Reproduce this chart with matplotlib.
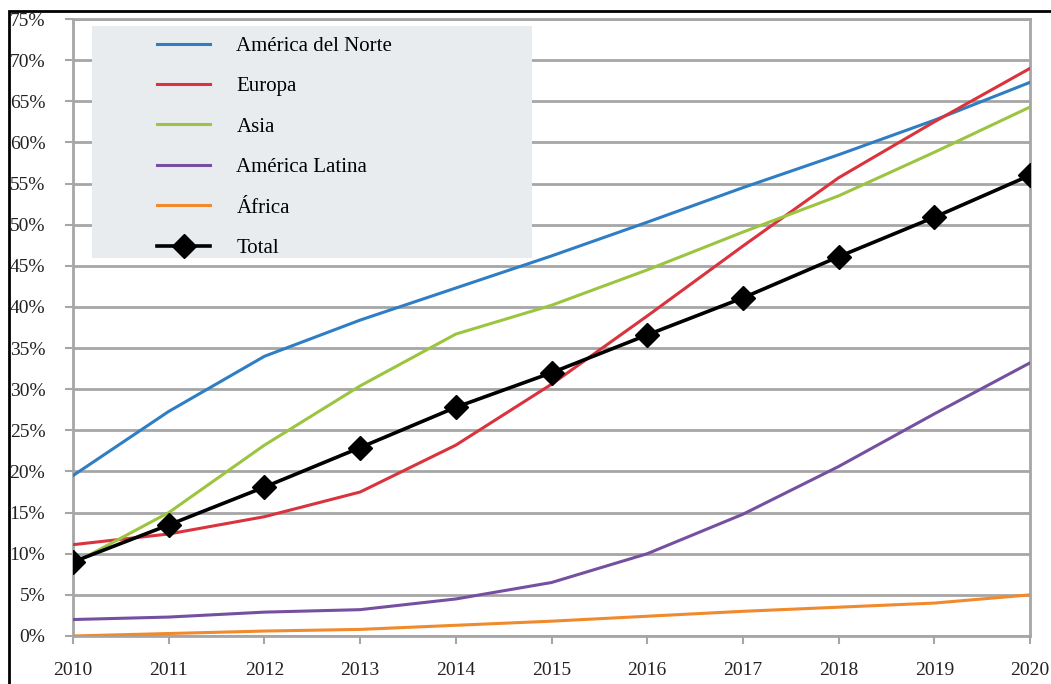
import matplotlib.pyplot as plt
from matplotlib.patches import Rectangle
from matplotlib.ticker import FuncFormatter

years = [2010, 2011, 2012, 2013, 2014, 2015, 2016, 2017, 2018, 2019, 2020]
norte = [19.5, 27.3, 34.0, 38.4, 42.3, 46.2, 50.3, 54.5, 58.5, 62.7, 67.3]
europa = [11.1, 12.4, 14.5, 17.5, 23.2, 30.6, 38.9, 47.4, 55.7, 62.5, 69.0]
asia = [8.8, 15.0, 23.2, 30.4, 36.7, 40.2, 44.5, 49.1, 53.5, 58.8, 64.3]
latina = [2.0, 2.3, 2.9, 3.2, 4.5, 6.5, 10.0, 14.8, 20.6, 27.0, 33.2]
africa = [0.0, 0.3, 0.6, 0.8, 1.3, 1.8, 2.4, 3.0, 3.5, 4.0, 5.0]
total = [9.0, 13.5, 18.1, 22.9, 27.8, 32.0, 36.6, 41.1, 46.1, 50.9, 56.0]

plt.rcParams['font.family'] = ['Liberation Serif', 'DejaVu Serif']

fig = plt.figure(figsize=(10.51, 6.84), dpi=100)
ax = fig.add_axes([0.0695, 0.0702, 0.9105, 0.902])

grid_c = '#a6a6a6'
ax.plot(years, norte, color='#2f7ec4', lw=2.2, label='América del Norte', zorder=3)
ax.plot(years, europa, color='#d9343d', lw=2.2, label='Europa', zorder=3)
ax.plot(years, asia, color='#9bc540', lw=2.2, label='Asia', zorder=3)
ax.plot(years, latina, color='#7650a0', lw=2.2, label='América Latina', zorder=3)
ax.plot(years, africa, color='#f08a2c', lw=2.2, label='África', zorder=3)
ax.plot(years, total, color='black', lw=2.6, marker='D', markersize=12,
        label='Total', zorder=4)

ax.set_xlim(2010, 2020)
ax.set_ylim(0, 75)
ax.set_xticks(years)
ax.set_yticks(range(0, 80, 5))
ax.yaxis.set_major_formatter(FuncFormatter(lambda v, p: '%d%%' % v))
ax.grid(axis='y', color=grid_c, lw=2)
ax.set_axisbelow(True)
for s in ax.spines.values():
    s.set_color(grid_c)
    s.set_linewidth(2)
ax.tick_params(axis='both', colors=grid_c, labelcolor='#222222', labelsize=14,
               length=6, width=1.5)
ax.tick_params(axis='x', pad=13)
ax.tick_params(axis='y', pad=14)

# legend background
ax.add_patch(Rectangle((0.02, 0.613), 0.46, 0.376, transform=ax.transAxes,
                       facecolor='#e9ecef', edgecolor='none', zorder=5))
leg = ax.legend(loc='upper left', bbox_to_anchor=(0.088, 0.972), frameon=False,
                fontsize=15, handlelength=2.55, handletextpad=1.25,
                labelspacing=1.0, borderaxespad=0, borderpad=0)
leg.set_zorder(6)

# outer border
fig.add_artist(Rectangle((0.0086, -0.1), 1.2, 1.084, transform=fig.transFigure,
                         facecolor='none', edgecolor='black', lw=2))

fig.savefig('out.png', dpi=100)
